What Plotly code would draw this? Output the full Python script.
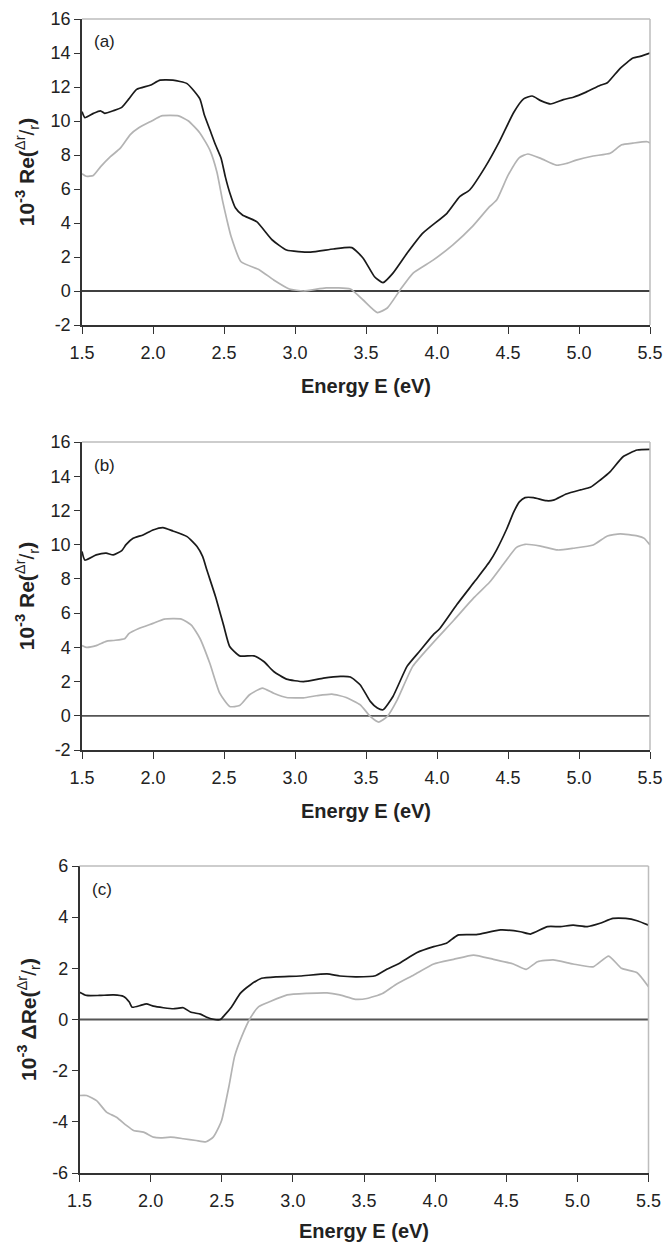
import plotly.graph_objects as go

# ---------------- data ----------------
# Panel (a)
a_black_E = [1.5, 1.52, 1.58, 1.63, 1.66, 1.72, 1.78, 1.83, 1.885, 1.98, 2.05, 2.14, 2.24, 2.33, 2.36,
             2.40, 2.44, 2.48, 2.51, 2.54, 2.58, 2.63, 2.73, 2.84, 2.94, 3.11, 3.27, 3.40, 3.48, 3.56,
             3.62, 3.69, 3.79, 3.90, 4.07, 4.16, 4.23, 4.34, 4.44, 4.54, 4.61, 4.67, 4.73, 4.80, 4.89,
             4.96, 5.05, 5.15, 5.20, 5.29, 5.38, 5.43, 5.50]
a_black_V = [10.55, 10.2, 10.45, 10.6, 10.45, 10.6, 10.8, 11.3, 11.86, 12.1, 12.4, 12.4, 12.2, 11.3, 10.4,
             9.5, 8.6, 7.8, 6.7, 5.8, 4.9, 4.47, 4.08, 3.0, 2.41, 2.29, 2.47, 2.55, 1.93, 0.84,
             0.49, 1.05, 2.23, 3.4, 4.57, 5.55, 5.94, 7.3, 8.8, 10.5, 11.3, 11.47, 11.2, 11.0, 11.26,
             11.4, 11.7, 12.1, 12.25, 13.1, 13.7, 13.8, 14.0]

a_gray_E = [1.5, 1.53, 1.58, 1.63, 1.70, 1.77, 1.84, 1.90, 1.99, 2.06, 2.18, 2.25, 2.33, 2.40, 2.45,
            2.49, 2.52, 2.55, 2.62, 2.75, 2.85, 2.96, 3.06, 3.22, 3.39, 3.48, 3.58, 3.65, 3.74, 3.83,
            3.97, 4.11, 4.25, 4.37, 4.42, 4.50, 4.58, 4.64, 4.73, 4.84, 4.91, 4.98, 5.10, 5.22, 5.30,
            5.38, 5.48, 5.50]
a_gray_V = [6.9, 6.75, 6.8, 7.3, 7.9, 8.4, 9.2, 9.6, 10.0, 10.3, 10.3, 10.0, 9.3, 8.3, 7.0,
            5.3, 4.2, 3.2, 1.72, 1.24, 0.65, 0.12, 0.0, 0.18, 0.12, -0.53, -1.27, -1.0, 0.06, 1.04,
            1.8, 2.7, 3.8, 4.96, 5.35, 6.8, 7.85, 8.06, 7.8, 7.4, 7.5, 7.7, 7.94, 8.1, 8.6,
            8.7, 8.78, 8.7]

# Panel (b)
b_black_E = [1.5, 1.52, 1.60, 1.67, 1.72, 1.78, 1.81, 1.86, 1.93, 2.00, 2.07, 2.14, 2.24, 2.31, 2.35,
             2.38, 2.44, 2.50, 2.54, 2.61, 2.71, 2.78, 2.85, 2.94, 3.06, 3.20, 3.32, 3.39, 3.46, 3.53,
             3.58, 3.62, 3.69, 3.79, 3.88, 3.97, 4.02, 4.14, 4.27, 4.37, 4.42, 4.49, 4.54, 4.58, 4.62,
             4.68, 4.77, 4.82, 4.91, 5.01, 5.08, 5.15, 5.22, 5.31, 5.41, 5.50]
b_black_V = [9.6, 9.1, 9.4, 9.5, 9.4, 9.65, 10.0, 10.37, 10.57, 10.86, 11.0, 10.8, 10.47, 9.89, 9.3,
             8.5, 6.97, 5.2, 4.05, 3.5, 3.5, 3.17, 2.59, 2.14, 2.0, 2.2, 2.3, 2.27, 1.8, 0.84,
             0.45, 0.35, 1.13, 2.9, 3.8, 4.7, 5.1, 6.5, 7.9, 9.0, 9.7, 10.9, 11.9, 12.5, 12.75,
             12.75, 12.57, 12.6, 12.96, 13.2, 13.35, 13.78, 14.27, 15.14, 15.53, 15.57]

b_gray_E = [1.5, 1.53, 1.60, 1.67, 1.72, 1.80, 1.83, 1.90, 2.00, 2.08, 2.20, 2.27, 2.33, 2.40, 2.47,
            2.54, 2.61, 2.68, 2.77, 2.85, 2.94, 3.06, 3.15, 3.26, 3.36, 3.46, 3.53, 3.59, 3.65, 3.72,
            3.83, 3.97, 4.12, 4.26, 4.37, 4.48, 4.56, 4.62, 4.73, 4.85, 4.96, 5.10, 5.20, 5.29, 5.41,
            5.46, 5.50]
b_gray_V = [4.1, 4.0, 4.1, 4.35, 4.4, 4.5, 4.8, 5.1, 5.4, 5.65, 5.65, 5.3, 4.53, 3.07, 1.32,
            0.54, 0.6, 1.23, 1.62, 1.32, 1.07, 1.05, 1.17, 1.27, 1.07, 0.64, -0.04, -0.37, -0.04, 0.93,
            2.9, 4.25, 5.6, 6.9, 7.8, 9.0, 9.84, 10.02, 9.92, 9.69, 9.79, 9.98, 10.51, 10.63, 10.51,
            10.37, 9.98]

# Panel (c)
c_black_E = [1.5, 1.55, 1.64, 1.74, 1.81, 1.85, 1.87, 1.93, 1.97, 2.02, 2.09, 2.16, 2.23, 2.28, 2.35,
             2.39, 2.44, 2.49, 2.52, 2.57, 2.63, 2.70, 2.78, 2.89, 3.05, 3.24, 3.33, 3.45, 3.58, 3.66,
             3.75, 3.87, 3.99, 4.08, 4.16, 4.29, 4.46, 4.60, 4.67, 4.79, 4.88, 4.97, 5.07, 5.16, 5.25,
             5.34, 5.42, 5.50]
c_black_V = [1.07, 0.94, 0.94, 0.96, 0.9, 0.68, 0.48, 0.55, 0.61, 0.52, 0.46, 0.42, 0.46, 0.29, 0.21,
             0.1, 0.01, 0.0, 0.17, 0.5, 1.02, 1.35, 1.61, 1.67, 1.70, 1.78, 1.70, 1.67, 1.71, 1.96,
             2.2, 2.61, 2.85, 2.98, 3.3, 3.32, 3.5, 3.43, 3.34, 3.63, 3.63, 3.69, 3.63, 3.76, 3.95,
             3.95, 3.86, 3.69]

c_gray_E = [1.5, 1.55, 1.62, 1.69, 1.76, 1.83, 1.88, 1.95, 2.02, 2.07, 2.14, 2.23, 2.32, 2.39, 2.44,
            2.48, 2.50, 2.55, 2.59, 2.64, 2.70, 2.76, 2.84, 2.96, 3.10, 3.24, 3.33, 3.44, 3.52, 3.63,
            3.73, 3.85, 3.99, 4.13, 4.27, 4.41, 4.55, 4.64, 4.72, 4.83, 4.97, 5.11, 5.22, 5.31, 5.42,
            5.50]
c_gray_V = [-2.97, -2.97, -3.17, -3.62, -3.82, -4.14, -4.34, -4.4, -4.6, -4.63, -4.6, -4.66, -4.73, -4.78, -4.6,
            -4.2, -3.93, -2.63, -1.45, -0.67, 0.05, 0.5, 0.7, 0.96, 1.02, 1.04, 0.96, 0.79, 0.82, 1.02,
            1.39, 1.74, 2.17, 2.35, 2.52, 2.35, 2.17, 1.96, 2.26, 2.33, 2.17, 2.06, 2.48, 2.0, 1.83,
            1.28]

x_ticks = [1.5, 2.0, 2.5, 3.0, 3.5, 4.0, 4.5, 5.0, 5.5]
x_tick_labels = ["1.5", "2.0", "2.5", "3.0", "3.5", "4.0", "4.5", "5.0", "5.5"]
y_ticks_ab = [-2, 0, 2, 4, 6, 8, 10, 12, 14, 16]
y_ticks_c = [-6, -4, -2, 0, 2, 4, 6]
panel_labels = ["(a)", "(b)", "(c)"]
x_title = "Energy E (eV)"
y_titles = ["<b>10<sup>-3</sup> Re(</b><sup>Δr</sup>/<sub>r</sub><b>)</b>",
            "<b>10<sup>-3</sup> Re(</b><sup>Δr</sup>/<sub>r</sub><b>)</b>",
            "<b>10<sup>-3</sup> ΔRe(</b><sup>Δr</sup>/<sub>r</sub><b>)</b>"]
y_ranges = [[-2, 16], [-2, 16], [-6, 6]]
y_tickvals = [y_ticks_ab, y_ticks_ab, y_ticks_c]

# ---------------- figure ----------------
W, H = 663, 1242
FONT = "Liberation Sans, Arial, sans-serif"
BLACK = "#1a1a1a"
GRAY = "#b3b3b3"

# pixel boxes of the three plot areas (left, right, top, bottom)
boxes = [(82, 650, 19, 325), (82, 650, 442, 750), (79.5, 648.5, 866, 1173)]

series = [
    (a_black_E, a_black_V, a_gray_E, a_gray_V),
    (b_black_E, b_black_V, b_gray_E, b_gray_V),
    (c_black_E, c_black_V, c_gray_E, c_gray_V),
]

fig = go.Figure()
layout = dict(
    width=W, height=H,
    margin=dict(l=0, r=0, t=0, b=0, autoexpand=False),
    paper_bgcolor="white", plot_bgcolor="white",
    showlegend=False,
    font=dict(family=FONT, color="#222", size=18),
)
shapes = []
annotations = []

for i, (box, (bE, bV, gE, gV)) in enumerate(zip(boxes, series)):
    n = "" if i == 0 else str(i + 1)
    xa, ya = "x" + n, "y" + n
    l, r, t, b = box
    layout["xaxis" + n] = dict(
        domain=[l / W, r / W], anchor=ya, range=[1.5, 5.5], automargin=False,
        tickvals=x_ticks, ticktext=x_tick_labels,
        showline=True, linecolor="#333", linewidth=1.5,
        ticks="outside", ticklen=7, tickcolor="#333", tickwidth=1.2,
        ticklabelstandoff=4,
        showgrid=False, zeroline=False,
        tickfont=dict(family=FONT, size=18, color="#222"),
        title=dict(text="<b>" + x_title + "</b>", font=dict(family=FONT, size=20, color="#222"), standoff=17),
    )
    tv = y_tickvals[i]
    layout["yaxis" + n] = dict(
        domain=[1 - b / H, 1 - t / H], anchor=xa, range=y_ranges[i], automargin=False,
        tickvals=tv, ticktext=[str(v) for v in tv],
        showline=True, linecolor="#333", linewidth=1.5,
        ticks="outside", ticklen=6, tickcolor="#333", tickwidth=1.2,
        showgrid=False, zeroline=False,
        tickfont=dict(family=FONT, size=18, color="#222"),
        title=dict(text=y_titles[i], font=dict(family=FONT, size=21, color="#222"), standoff=10),
    )
    # horizontal line at zero (thin black in (a), heavier dark-gray in (b) and (c))
    shapes.append(dict(type="line", xref=xa + " domain", yref=ya, x0=0, x1=1, y0=0, y1=0, layer="below",
                       line=dict(color="#000" if i == 0 else "#555",
                                 width=1.3 if i == 0 else 1.8)))
    fig.add_trace(go.Scatter(x=gE, y=gV, mode="lines",
                             line=dict(color=GRAY, width=1.7, shape="spline", smoothing=0.5),
                             xaxis=xa, yaxis=ya))
    fig.add_trace(go.Scatter(x=bE, y=bV, mode="lines",
                             line=dict(color=BLACK, width=1.7, shape="spline", smoothing=0.5),
                             xaxis=xa, yaxis=ya))
    # light gray frame on top and right
    shapes.append(dict(type="line", xref=xa + " domain", yref=ya + " domain", x0=0, x1=1, y0=1, y1=1,
                       line=dict(color="#bdbdbd", width=1.5)))
    shapes.append(dict(type="line", xref=xa + " domain", yref=ya + " domain", x0=1, x1=1, y0=0, y1=1,
                       line=dict(color="#bdbdbd", width=1.5)))
    annotations.append(dict(text=panel_labels[i], xref=xa + " domain", yref=ya + " domain",
                            x=0.04, y=0.925, showarrow=False, xanchor="center", yanchor="middle",
                            font=dict(family=FONT, size=17, color="#222")))

layout["shapes"] = shapes
layout["annotations"] = annotations
fig.update_layout(**layout)
fig.write_html(
    "out.html",
    config={"displayModeBar": False},
    post_script="document.body.style.margin='0';document.body.style.padding='0';"
                "document.body.style.overflow='hidden';",
)
